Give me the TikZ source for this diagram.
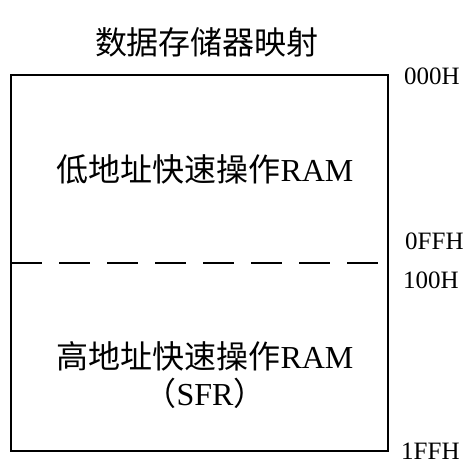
\documentclass[tikz,border=0pt]{standalone}
\usepackage{fontspec}
\setmainfont{Liberation Serif}
\newfontfamily\cjk{Noto Sans CJK SC}
\usepackage{tikz}
\tikzset{
  memline/.style={line width=2pt, black},
  region/.style={font=\fontsize{32}{37}\selectfont, align=center, inner sep=0pt},
  addr/.style={font=\fontsize{25}{29}\selectfont, anchor=west, inner sep=0pt},
}

\begin{document}
\begin{tikzpicture}[x=1pt, y=-1pt]
\useasboundingbox (0,0) rectangle (472,466);

% memory block
\coordinate (topleft) at (11,75);
\coordinate (botright) at (388,451);
\coordinate (splitleft) at (11,263);
\coordinate (splitright) at (388,263);
\draw[memline] (topleft) rectangle (botright);
\draw[memline, dash pattern=on 31pt off 17pt] (splitleft) -- (splitright);

% title and regions
\node[region] (title) at (207,42) {\cjk 数据存储器映射};
\node[region] (lowram) at (205,169) {{\cjk 低地址快速操作}RAM};
\node[region] (highram) at (205,375) {{\cjk 高地址快速操作}RAM\\{\cjk （}SFR{\cjk ）}};

% addresses
\node[addr] (addrA) at (404,76) {000H};
\node[addr] (addrB) at (405,241) {0FFH};
\node[addr] (addrC) at (403,280) {100H};
\node[addr] (addrD) at (401,451) {1FFH};
\end{tikzpicture}
\end{document}
